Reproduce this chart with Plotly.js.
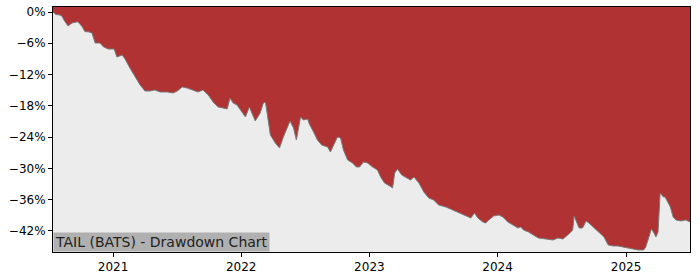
<!DOCTYPE html>
<html>
<head>
<meta charset="utf-8">
<script src="https://cdn.plot.ly/plotly-3.0.1.min.js"></script>
<style>html,body{margin:0;padding:0;background:#fff;}#chart{width:700px;height:280px;}</style>
</head>
<body>
<div id="chart"></div>
<script>
const dates = [
"2020-07-14","2020-07-22","2020-08-03","2020-08-08","2020-08-17","2020-08-26","2020-09-06","2020-09-23","2020-10-05","2020-10-13",
"2020-10-22","2020-11-02","2020-11-11","2020-11-25","2020-12-04","2020-12-18","2021-01-04","2021-01-12","2021-01-27","2021-02-04",
"2021-02-18","2021-03-05","2021-03-19","2021-04-02","2021-04-16","2021-04-30","2021-05-15","2021-06-04","2021-06-21","2021-07-03",
"2021-07-17","2021-07-31","2021-08-14","2021-08-31","2021-09-14","2021-09-29","2021-10-13","2021-10-27","2021-11-10","2021-11-22",
"2021-11-30","2021-12-09","2021-12-20","2022-01-04","2022-01-13","2022-01-24","2022-02-04","2022-02-10","2022-02-24","2022-03-05",
"2022-03-11","2022-03-18","2022-03-25","2022-04-08","2022-04-20","2022-05-01","2022-05-13","2022-05-20","2022-05-30","2022-06-07",
"2022-06-19","2022-06-27","2022-07-09","2022-07-14","2022-07-26","2022-08-06","2022-08-18","2022-09-04","2022-09-12","2022-09-21",
"2022-10-02","2022-10-11","2022-10-19","2022-10-31","2022-11-14","2022-11-25","2022-12-04","2022-12-15","2022-12-27","2023-01-10",
"2023-01-24","2023-02-02","2023-02-13","2023-02-28","2023-03-08","2023-03-14","2023-03-22","2023-04-03","2023-04-14","2023-04-28",
"2023-05-08","2023-05-22","2023-06-05","2023-06-19","2023-07-03","2023-07-17","2023-08-07","2023-08-25","2023-09-12","2023-10-02",
"2023-10-17","2023-10-27","2023-11-06","2023-11-20","2023-11-28","2023-12-07","2023-12-21","2024-01-05","2024-01-16","2024-01-30",
"2024-02-13","2024-02-28","2024-03-07","2024-03-15","2024-03-29","2024-04-12","2024-04-26","2024-05-17","2024-06-07","2024-06-21",
"2024-07-05","2024-07-19","2024-08-02","2024-08-06","2024-08-14","2024-08-20","2024-08-30","2024-09-09","2024-09-17","2024-10-02",
"2024-10-16","2024-10-30","2024-11-11","2024-11-25","2024-12-09","2024-12-23","2025-01-07","2025-01-21","2025-02-04","2025-02-20",
"2025-02-26","2025-03-07","2025-03-14","2025-03-20","2025-03-27","2025-04-02","2025-04-08","2025-04-17","2025-04-22","2025-05-01",
"2025-05-07","2025-05-15","2025-05-23","2025-06-06","2025-06-20","2025-07-02"
];
const drawdown = [
0.0,-0.48,-0.58,-0.77,-1.86,-2.68,-2.11,-1.86,-2.82,-3.78,
-3.78,-4.03,-5.95,-5.95,-6.65,-7.10,-7.10,-8.63,-8.25,-9.01,
-10.74,-12.47,-14.00,-15.15,-15.15,-14.96,-15.34,-15.34,-15.53,-15.15,
-14.38,-14.58,-14.96,-15.34,-14.96,-15.92,-17.26,-18.22,-18.41,-18.60,
-16.49,-17.45,-17.84,-19.18,-20.14,-18.22,-19.75,-20.90,-19.37,-17.45,
-17.26,-20.71,-23.59,-25.12,-26.08,-23.97,-22.05,-20.90,-22.25,-24.55,
-20.14,-20.71,-20.52,-21.48,-23.01,-24.55,-25.51,-25.89,-26.85,-25.51,
-23.97,-24.16,-26.47,-28.38,-28.96,-29.73,-29.73,-28.77,-28.96,-29.73,
-30.30,-31.64,-32.79,-33.37,-33.75,-30.88,-30.11,-31.26,-31.64,-32.22,
-31.64,-32.79,-34.52,-35.67,-36.05,-37.01,-37.40,-37.97,-38.55,-39.12,
-39.51,-38.55,-39.51,-40.27,-40.47,-39.89,-39.12,-38.93,-39.31,-40.27,
-40.85,-41.42,-41.23,-41.81,-42.19,-42.76,-43.34,-43.53,-43.73,-43.34,
-43.53,-42.76,-41.81,-39.12,-40.27,-41.42,-41.42,-40.08,-40.47,-41.42,
-42.38,-43.15,-44.68,-44.88,-44.88,-45.07,-45.26,-45.45,-45.64,-45.64,
-45.07,-43.15,-41.62,-42.19,-43.15,-42.19,-34.71,-35.48,-35.48,-36.63,
-37.40,-39.31,-39.89,-40.08,-39.89,-40.27
];
const yTickVals = [0,-6,-12,-18,-24,-30,-36,-42];
const yTickText = ["0%","\u22126%","\u221212%","\u221218%","\u221224%","\u221230%","\u221236%","\u221242%"];
const xTickVals = ["2021-01-01","2022-01-01","2023-01-01","2024-01-01","2025-01-01"];
const xTickText = ["2021","2022","2023","2024","2025"];
const chartLabel = "TAIL (BATS) - Drawdown Chart";

const topEdge = dates.map(() => 5);
const traces = [
  {x: dates, y: topEdge, mode: 'lines', line: {width: 0, color: 'rgba(0,0,0,0)'}, hoverinfo: 'skip', showlegend: false},
  {x: dates, y: drawdown, mode: 'lines', fill: 'tonexty', fillcolor: '#b03232',
   line: {color: '#7a7a7a', width: 1}, showlegend: false}
];
const layout = {
  width: 700, height: 280,
  margin: {l: 53, r: 10, t: 7, b: 28, pad: 0},
  paper_bgcolor: '#ffffff',
  plot_bgcolor: '#ececec',
  font: {family: 'DejaVu Sans', size: 12, color: '#000'},
  showlegend: false,
  xaxis: {
    type: 'date', range: [dates[0], dates[dates.length - 1]],
    tickvals: xTickVals, ticktext: xTickText,
    ticks: 'outside', ticklen: 4, tickwidth: 1, tickcolor: '#000',
    showgrid: false, zeroline: false,
    showline: true, linecolor: '#000', linewidth: 1, mirror: true,
    tickfont: {size: 12, family: 'DejaVu Sans', color: '#000'}
  },
  yaxis: {
    range: [-46.03, 0.96],
    tickvals: yTickVals, ticktext: yTickText,
    ticks: 'outside', ticklen: 4, tickwidth: 1, tickcolor: '#000',
    showgrid: false, zeroline: false,
    showline: true, linecolor: '#000', linewidth: 1, mirror: true,
    tickfont: {size: 12, family: 'DejaVu Sans', color: '#000'}
  },
  annotations: [{
    xref: 'paper', yref: 'paper', x: 0, y: 0, xanchor: 'left', yanchor: 'bottom',
    text: chartLabel, showarrow: false,
    font: {family: 'DejaVu Sans', size: 14, color: '#222'},
    bgcolor: '#b0b0b0', borderpad: 1
  }]
};
Plotly.newPlot('chart', traces, layout, {staticPlot: true, displayModeBar: false});
</script>
</body>
</html>
